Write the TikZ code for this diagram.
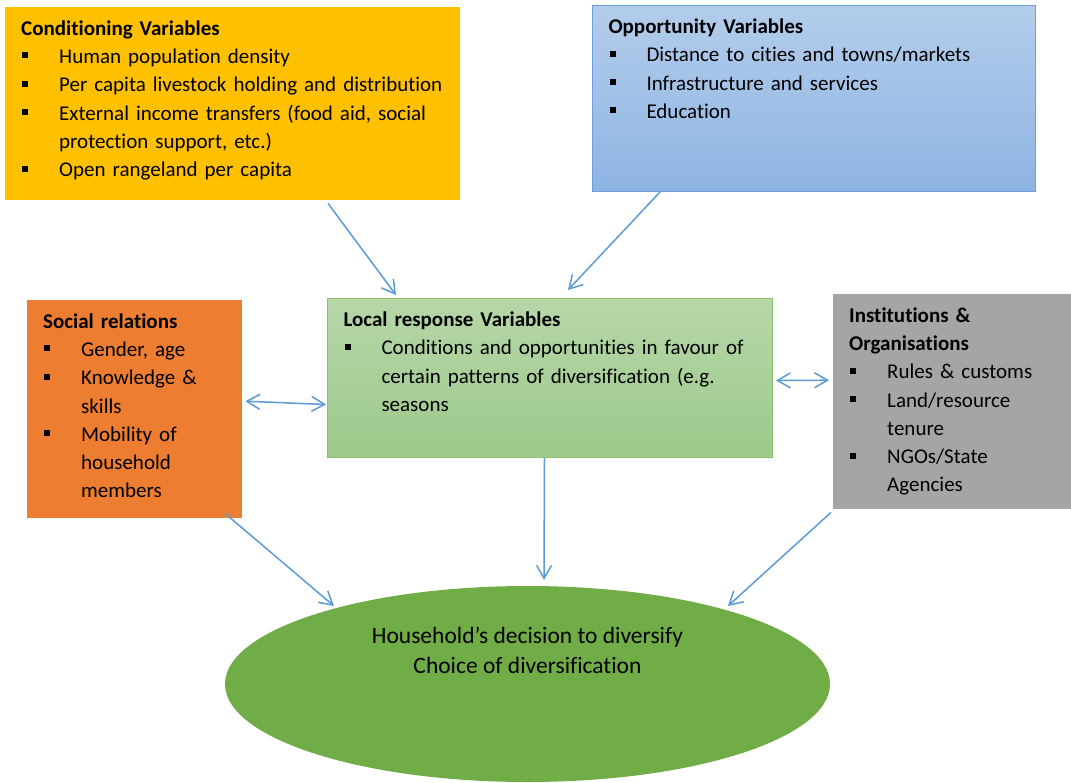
\documentclass[tikz,border=0pt]{standalone}
\usepackage{fontspec}
\setmainfont{Carlito}[Ligatures=NoCommon]
\usepackage{xcolor}
\usetikzlibrary{arrows.meta,shapes.geometric}

\definecolor{condFill}{HTML}{FFC000}
\definecolor{oppTop}{HTML}{B3CDEB}
\definecolor{oppBot}{HTML}{8EB4E3}
\definecolor{oppLine}{HTML}{6C9FDC}
\definecolor{locTop}{HTML}{B6D7A8}
\definecolor{locBot}{HTML}{9DC98B}
\definecolor{locLine}{HTML}{8BC16A}
\definecolor{socFill}{HTML}{ED7D31}
\definecolor{instFill}{HTML}{A5A5A5}
\definecolor{ovalFill}{HTML}{70AD47}
\definecolor{arrowBlue}{HTML}{5B9BD5}

%% square bullet and the matching hanging indent for wrapped lines
\newcommand{\sqb}{\makebox[38pt][l]{\hspace{1pt}\rule[5pt]{6pt}{6pt}}}
\newcommand{\hng}{\hspace*{38pt}}

\begin{document}
\begin{tikzpicture}[
      x=1pt, y=-1pt,
      font=\fontsize{21}{28.3}\selectfont,
      panel/.style={rectangle, anchor=north west, align=left,
                    inner xsep=16pt, inner ysep=8pt, text height=20pt},
      flow/.style={draw=arrowBlue, line width=1.5pt,
                   -{Straight Barb[length=13pt,width=15pt]}},
      both/.style={flow, {Straight Barb[length=13pt,width=15pt]}-{Straight Barb[length=13pt,width=15pt]}},
      oval/.style={ellipse, fill=ovalFill, minimum width=605pt,
                   minimum height=196pt, inner sep=0pt}]

    %% Geometry: one unit = one pixel of the 1071x783 frame, y runs downwards.
    %% Every panel hangs from its north west corner; first baseline sits 28 below it.
    \useasboundingbox (0,0) rectangle (1071,783);

    %% ---- top row ----
    \node[panel, fill=condFill, text width=423pt, text depth=157pt] (cond) at (5,7)
      {\textbf{Conditioning Variables}\\
       \sqb Human population density\\
       \sqb Per capita livestock holding and distribution\\
       \sqb External income transfers (food aid, social\\
       \hng protection support, etc.)\\
       \sqb Open rangeland per capita};
    \node[panel, top color=oppTop, bottom color=oppBot, draw=oppLine, line width=1pt,
          text width=411pt, text depth=150pt] (opp) at (592,5)
      {\textbf{Opportunity Variables}\\
       \sqb Distance to cities and towns/markets\\
       \sqb Infrastructure and services\\
       \sqb Education};

    %% ---- middle row ----
    \node[panel, top color=locTop, bottom color=locBot, draw=locLine, line width=1pt,
          text width=413pt, text depth=123pt] (local) at (327,298)
      {\textbf{Local response Variables}\\
       \sqb Conditions and opportunities in favour of\\
       \hng certain patterns of diversification (e.g.\\
       \hng seasons};
    \node[panel, fill=socFill, text width=183pt, text depth=182pt] (social) at (27,300)
      {\textbf{Social relations}\\
       \sqb Gender, age\\
       \sqb Knowledge \&\\
       \hng skills\\
       \sqb Mobility of\\
       \hng household\\
       \hng members};
    \node[panel, fill=instFill, text width=206pt, text depth=179pt] (inst) at (833,294)
      {\textbf{Institutions \&}\\
       \textbf{Organisations}\\
       \sqb Rules \& customs\\
       \sqb Land/resource\\
       \hng tenure\\
       \sqb NGOs/State\\
       \hng Agencies};

    %% ---- outcome ----
    \node[oval] (hh) at (527.5,684) {};
    \node[align=center, font=\fontsize{23.5}{30}\selectfont] (hhtxt)
      at ([yshift=34pt]hh.center)
      {Household’s decision to diversify\\Choice of diversification};

    %% ---- connectors ----
    \draw[flow] ([xshift=323pt,yshift=-3pt]cond.south west) -- ([xshift=69pt,yshift=3pt]local.north west);
    \draw[flow] ([xshift=68pt]opp.south west) -- ([xshift=241pt,yshift=8pt]local.north west);
    \draw[both] ([xshift=3pt,yshift=8pt]social.east) -- ([xshift=-1pt,yshift=-26.5pt]local.west);
    \draw[both] ([xshift=3pt,yshift=-2.5pt]local.east) -- ([xshift=-4pt,yshift=21.5pt]inst.west);
    \draw[flow] ([xshift=-5.5pt]local.south) -- ([xshift=16.5pt,yshift=6pt]hh.north);
    \draw[flow] ([xshift=198pt,yshift=5pt]social.south west) -- ([xshift=-193.5pt,yshift=78pt]hh.center);
    \draw[flow] ([xshift=-2pt,yshift=-3pt]inst.south west) -- ([xshift=200.5pt,yshift=78pt]hh.center);
  \end{tikzpicture}
\end{document}
